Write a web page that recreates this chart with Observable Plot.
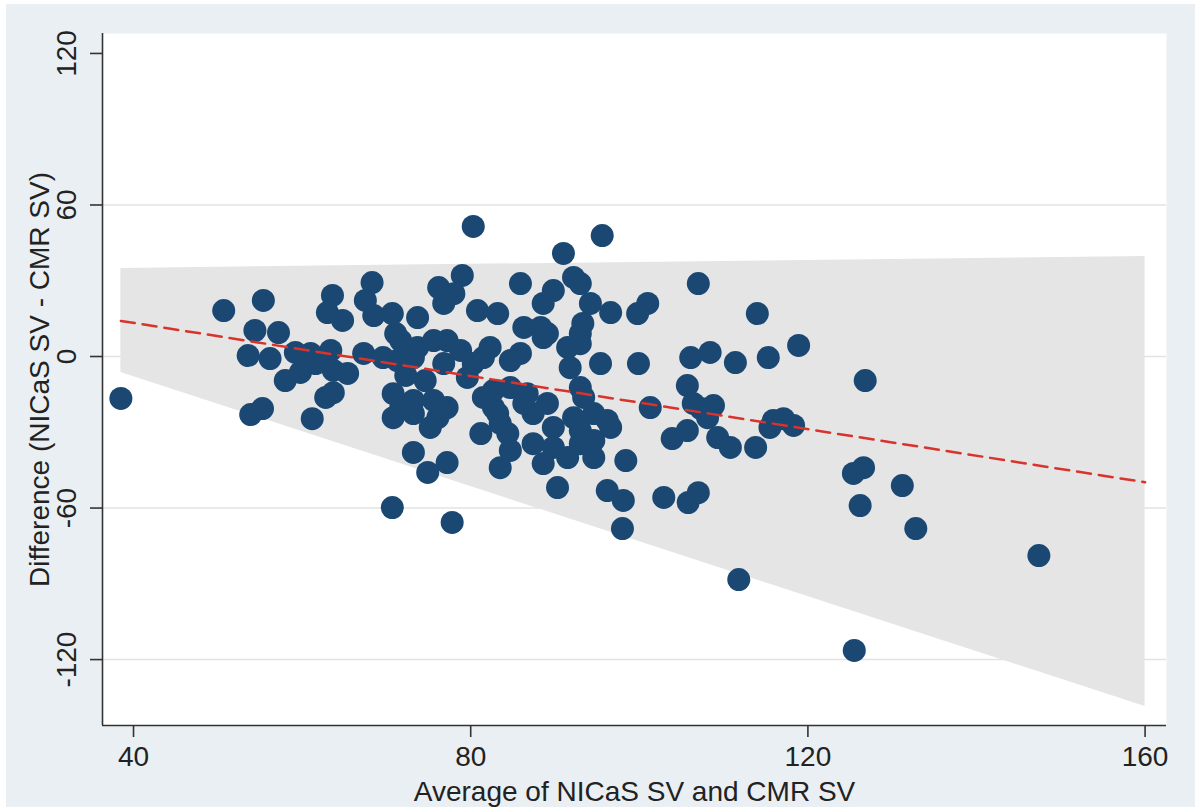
<!DOCTYPE html>
<html><head><meta charset="utf-8">
<script src="https://cdn.jsdelivr.net/npm/d3@7"></script>
<script src="https://cdn.jsdelivr.net/npm/@observablehq/plot@0.6"></script>
<style>
html,body{margin:0;padding:0;background:#fff;}
#wrap{position:relative;width:1200px;height:811px;overflow:hidden;}
#bg{position:absolute;left:6px;top:4px;width:1189px;height:803px;background:#e9eff2;}
#chart{position:absolute;left:0;top:0;}
</style></head><body>
<div id="wrap"><div id="bg"></div><div id="chart"></div></div>
<script>
// Average of the two methods (x) and their difference (y)
const average = [
  38.5, 50.7, 53.6, 53.9, 55.3, 54.4, 55.4, 56.2, 57.2, 58.0,
  59.2, 59.8, 61.0, 61.2, 61.6, 62.4, 63.4, 63.7, 65.4, 63.6,
  63.0, 64.8, 62.8, 63.7, 67.3, 68.3, 67.5, 68.5, 70.7, 71.1,
  69.6, 71.3, 73.7, 70.8, 70.8, 71.7, 73.2, 73.2, 73.2, 74.9,
  77.2, 70.7, 73.2, 71.7, 73.7, 74.6, 72.3, 76.2, 79.0, 78.0,
  76.8, 80.8, 83.2, 75.6, 77.2, 78.8, 80.3, 82.3, 75.6, 77.2,
  75.2, 81.2, 76.8, 79.6, 76.1, 76.6, 80.3, 77.8, 82.7, 82.7,
  81.5, 84.7, 86.7, 86.3, 88.3, 89.1, 85.9, 84.7, 81.5, 85.9,
  83.2, 84.4, 84.7, 83.5, 87.4, 87.4, 86.3, 89.1, 88.6, 89.8,
  91.0, 92.2, 93.0, 94.2, 96.6, 93.3, 93.0, 91.5, 91.8, 95.4,
  93.0, 93.4, 94.6, 96.2, 93.0, 96.6, 89.8, 92.2, 89.8, 91.5,
  93.0, 94.6, 88.6, 90.3, 94.6, 95.6, 96.2, 98.1, 98.4, 98.0,
  88.6, 99.8, 101.0, 99.9, 101.3, 107.0, 102.9, 105.8, 107.0, 103.9,
  105.7, 106.1, 105.7, 106.4, 108.4, 107.3, 108.8, 108.1, 109.3, 110.8,
  111.4, 111.8, 113.8, 114.0, 115.3, 115.5, 115.9, 117.1, 118.3, 118.9,
  125.4, 126.6, 125.5, 126.2, 126.8, 131.2, 132.8, 147.4, 93.0, 83.5
];
const difference = [
  -16.6, 18.2, 0.4, -23.0, -20.6, 10.3, 22.2, -0.8, 9.5, -9.5,
  1.6, -6.3, 1.2, -24.6, -2.8, -1.6, 2.4, -5.5, -6.7, 24.2,
  17.4, 14.3, -16.2, -14.3, 1.2, 29.3, 22.2, 16.2, 17.0, 9.1,
  -0.4, -1.6, 15.4, -14.7, -24.2, -20.2, -17.4, -22.6, -38.0, -45.9,
  -42.0, -59.8, -0.4, 6.3, 3.6, -9.5, -7.5, 27.3, 32.1, 24.9,
  21.0, 18.2, 17.0, 6.3, 6.3, 2.4, -2.8, 3.6, -17.4, -20.2,
  -28.1, -30.5, -2.8, -8.3, -24.2, -21.4, 51.5, -65.7, -20.2, -13.5,
  -16.2, -12.3, -14.7, 11.5, 11.5, 9.1, 1.2, -1.6, -0.4, 28.9,
  -22.6, -30.5, -37.2, -44.0, -22.6, -34.5, -18.6, -18.6, 21.0, 26.1,
  40.8, 31.3, 28.9, 21.0, 17.4, 13.1, 5.1, 3.6, -4.4, -2.8,
  -12.3, -16.2, -22.6, -25.3, -29.3, -28.1, -28.1, -24.2, -36.0, -40.0,
  -34.5, -40.0, -42.4, -51.9, -33.3, 47.9, -53.1, -57.0, -41.2, -68.1,
  7.5, 17.0, 21.0, -2.8, -20.2, 28.9, -55.8, -57.8, -53.9, -32.5,
  -29.3, -0.4, -11.5, -18.6, 1.6, -20.6, -19.4, -24.2, -32.1, -36.0,
  -2.4, -88.3, -36.0, 17.0, -0.4, -28.1, -25.3, -24.6, -27.3, 4.4,
  -46.3, -44.0, -116.4, -59.0, -9.5, -51.1, -68.1, -78.8, 9.1, -26.5
];
// Regression-based limits of agreement (shaded band) and fitted mean difference (dashed)
const bandX = [38.5, 160];
const bandUpper = [34.9, 39.6];
const bandLower = [-6.3, -138.6];
const fitX = [38.5, 160];
const fitY = [14.1, -49.8];
// Axes
const xTicks = [40, 80, 120, 160];
const yTicks = [-120, -60, 0, 60, 120];
const gridValues = [-120, -60, 0, 60];
const xTitle = "Average of NICaS SV and CMR SV";
const yTitle = "Difference (NICaS SV - CMR SV)";

const points = average.map((x, i) => ({x, y: difference[i]}));
const band = bandX.map((x, i) => ({x, y1: bandLower[i], y2: bandUpper[i]}));
const fit = fitX.map((x, i) => ({x, y: fitY[i]}));

const xDom = [36.32, 162.54];
const yDom = [-146.1, 127.9];
const font = "'Liberation Sans', Arial, Helvetica, sans-serif";

const chart = Plot.plot({
  width: 1200, height: 811,
  marginLeft: 102, marginRight: 34, marginTop: 33, marginBottom: 86,
  x: {domain: xDom},
  y: {domain: yDom},
  style: {background: "transparent", fontFamily: font, color: "#222", overflow: "visible"},
  marks: [
    Plot.frame({fill: "white", stroke: "none"}),
    Plot.gridY(gridValues, {stroke: "#e3e3e3", strokeOpacity: 1, strokeWidth: 1.5}),
    Plot.areaY(band, {x: "x", y1: "y1", y2: "y2", fill: "#e5e5e5"}),
    Plot.dot(points, {x: "x", y: "y", r: 11.5, fill: "#1a4873", stroke: "none"}),
    Plot.line(fit, {x: "x", y: "y", stroke: "#d8332c", strokeWidth: 2.5, strokeDasharray: "14,8"}),
    Plot.ruleX([xDom[0]], {stroke: "#333", strokeWidth: 1.6}),
    Plot.ruleY([yDom[0]], {stroke: "#333", strokeWidth: 1.6}),
    Plot.axisX(xTicks, {tickSize: 12, tickPadding: 9, fontSize: 28, stroke: "#333", strokeWidth: 1.6, fill: "#222", label: null}),
    Plot.axisY(yTicks, {tickSize: 12, tickFormat: () => "", stroke: "#333", strokeWidth: 1.6, label: null}),
    Plot.text(yTicks, {y: d => d, frameAnchor: "left", dx: -35, rotate: -90, text: d => String(d),
      fontSize: 28, lineAnchor: "middle", textAnchor: "middle", fill: "#222"}),
    Plot.text([xTitle], {frameAnchor: "bottom", dy: 67, fontSize: 28, text: d => d,
      lineAnchor: "middle", textAnchor: "middle", fill: "#222"}),
    Plot.text([yTitle], {frameAnchor: "left", dx: -62, rotate: -90, fontSize: 28, text: d => d,
      lineAnchor: "middle", textAnchor: "middle", fill: "#222"})
  ]
});
document.getElementById("chart").appendChild(chart);
</script>
</body></html>
